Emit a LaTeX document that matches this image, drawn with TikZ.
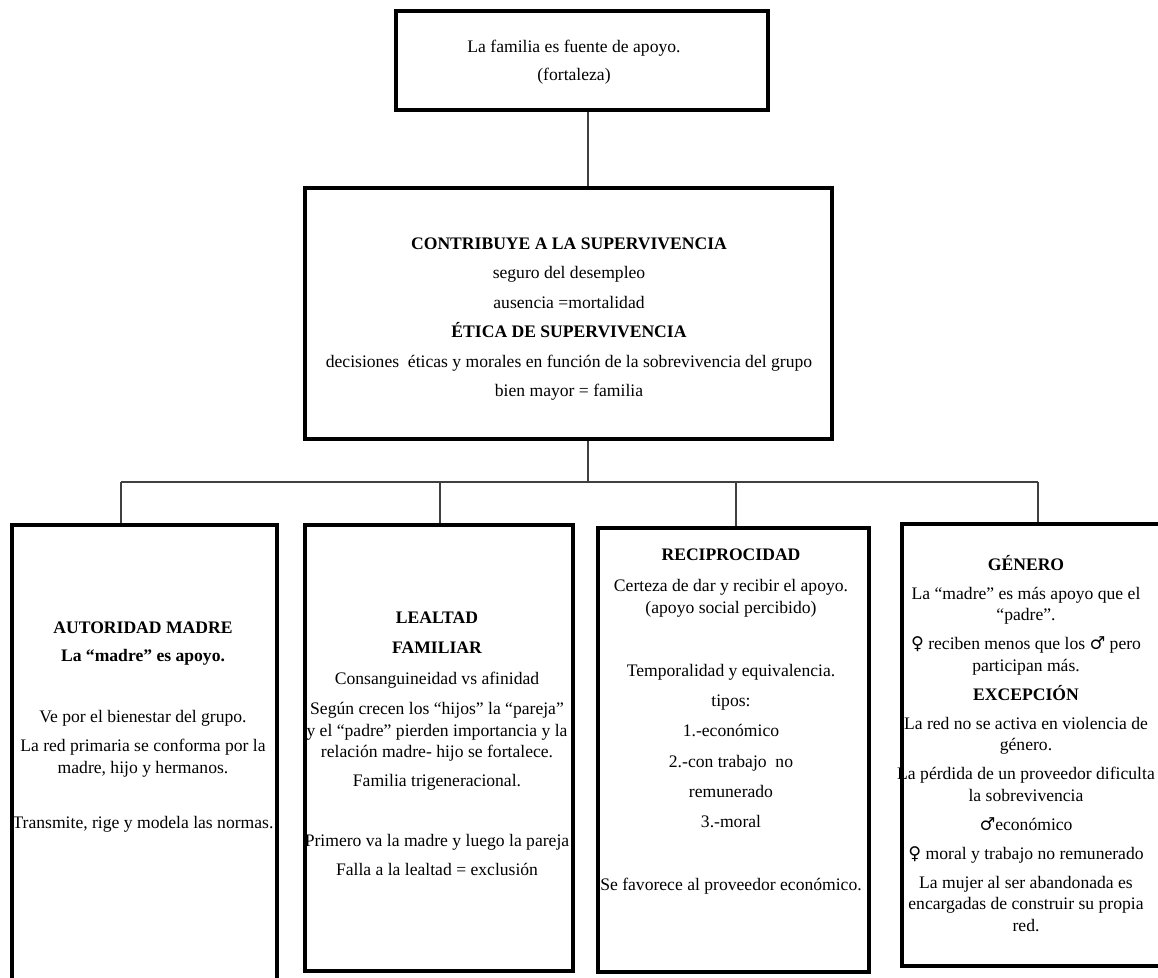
\documentclass[tikz,border=0pt]{standalone}
\usepackage{fontspec}
\setmainfont{Liberation Serif}
\newfontfamily\symfont{DejaVu Serif}
\newcommand\fem{{\symfont ♀}}
\newcommand\masc{{\symfont ♂}}
\newcommand\txtline[5][txt]{\node[#1] (#2) at (#3,#4) {#5};}
\begin{document}
\begin{tikzpicture}[x=1pt,y=-1pt,
  box/.style={draw=black, line width=3.7pt, inner sep=0pt},
  conn/.style={draw=black!75, line width=1.3pt},
  txt/.style={inner sep=0pt, anchor=base, font=\fontsize{17.6}{21}\selectfont},
  ttl/.style={txt, font=\fontsize{17.6}{21}\selectfont\bfseries}]
\useasboundingbox (0,0) rectangle (1158,977);
\clip (0,0) rectangle (1158,977);

% boxes
\node[box, minimum width=372pt, minimum height=99pt] (top) at (582,60.5) {};
\node[box, minimum width=527pt, minimum height=251pt] (mid) at (568.5,313.5) {};
\node[box, minimum width=265pt, minimum height=475pt] (b1) at (144.5,762.5) {};
\node[box, minimum width=268pt, minimum height=446pt] (b2) at (439,748) {};
\node[box, minimum width=271pt, minimum height=444pt] (b3) at (733.5,750) {};
\node[box, minimum width=273pt, minimum height=442pt] (b4) at (1038.5,745) {};

% connectors
\coordinate (j0) at (588,482);
\coordinate (d1) at (121,482);
\coordinate (d2) at (440,482);
\coordinate (d3) at (736,482);
\coordinate (d4) at (1038,482);
\draw[conn] (top.south -| j0) -- (mid.north -| j0);
\draw[conn] (mid.south -| j0) -- (j0);
\draw[conn] (d1) -- (d4);
\draw[conn] (d1) -- (b1.north -| d1);
\draw[conn] (d2) -- (b2.north -| d2);
\draw[conn] (d3) -- (b3.north -| d3);
\draw[conn] (d4) -- (b4.north -| d4);

% top box text
\txtline{ta}{574}{52}{La familia es fuente de apoyo.}
\txtline{tb}{574}{80}{(fortaleza)}

% middle box text
\txtline[ttl]{ma}{569}{249}{CONTRIBUYE A LA SUPERVIVENCIA}
\txtline{mb}{569}{278.5}{seguro del desempleo}
\txtline{mc}{569}{308}{ausencia =mortalidad}
\txtline[ttl]{md}{569}{337.5}{ÉTICA DE SUPERVIVENCIA}
\txtline{me}{569}{367}{decisiones\ \ éticas y morales en función de la sobrevivencia del grupo}
\txtline{mf}{569}{396.5}{bien mayor = familia}

% box 1
\txtline[ttl]{aa}{143}{633}{AUTORIDAD MADRE}
\txtline[ttl]{ab}{143}{661}{La “madre” es apoyo.}
\txtline{ac}{143}{722}{Ve por el bienestar del grupo.}
\txtline{ad}{143}{751}{La red primaria se conforma por la}
\txtline{ae}{143}{773}{madre, hijo y hermanos.}
\txtline{af}{143}{828}{Transmite, rige y modela las normas.}

% box 2
\txtline[ttl]{la}{437}{623}{LEALTAD}
\txtline[ttl]{lb}{437}{653}{FAMILIAR}
\txtline{lc}{437}{684}{Consanguineidad vs afinidad}
\txtline{ld}{437}{714}{Según crecen los “hijos” la “pareja”}
\txtline{le}{437}{736}{y el “padre” pierden importancia y la}
\txtline{lf}{437}{757}{relación madre- hijo se fortalece.}
\txtline{lg}{437}{786}{Familia trigeneracional.}
\txtline{lh}{437}{846}{Primero va la madre y luego la pareja}
\txtline{li}{437}{875}{Falla a la lealtad = exclusión}

% box 3
\txtline[ttl]{ra}{731}{560}{RECIPROCIDAD}
\txtline{rb}{731}{591}{Certeza de dar y recibir el apoyo.}
\txtline{rc}{731}{613}{(apoyo social percibido)}
\txtline{rd}{731}{676}{Temporalidad y equivalencia.}
\txtline{re}{731}{706}{tipos:}
\txtline{rf}{731}{736}{1.-económico}
\txtline{rg}{731}{767}{2.-con trabajo\ \ no}
\txtline{rh}{731}{797}{remunerado}
\txtline{ri}{731}{827}{3.-moral}
\txtline{rj}{731}{890}{Se favorece al proveedor económico.}

% box 4
\txtline[ttl]{ga}{1026}{570}{GÉNERO}
\txtline{gb}{1026}{599}{La “madre” es más apoyo que el}
\txtline{gc}{1026}{620.5}{“padre”.}
\txtline{gd}{1026}{649.5}{\fem\ reciben menos que los \masc\ pero}
\txtline{ge}{1026}{671}{participan más.}
\txtline[ttl]{gf}{1026}{700}{EXCEPCIÓN}
\txtline{gg}{1026}{729}{La red no se activa en violencia de}
\txtline{gh}{1026}{750.5}{género.}
\txtline{gi}{1026}{779.5}{La pérdida de un proveedor dificulta}
\txtline{gj}{1026}{801}{la sobrevivencia}
\txtline{gk}{1026}{830}{\masc económico}
\txtline{gl}{1026}{859}{\fem\ moral y trabajo no remunerado}
\txtline{gm}{1026}{888}{La mujer al ser abandonada es}
\txtline{gn}{1026}{909.5}{encargadas de construir su propia}
\txtline{go}{1026}{931}{red.}
\end{tikzpicture}
\end{document}
